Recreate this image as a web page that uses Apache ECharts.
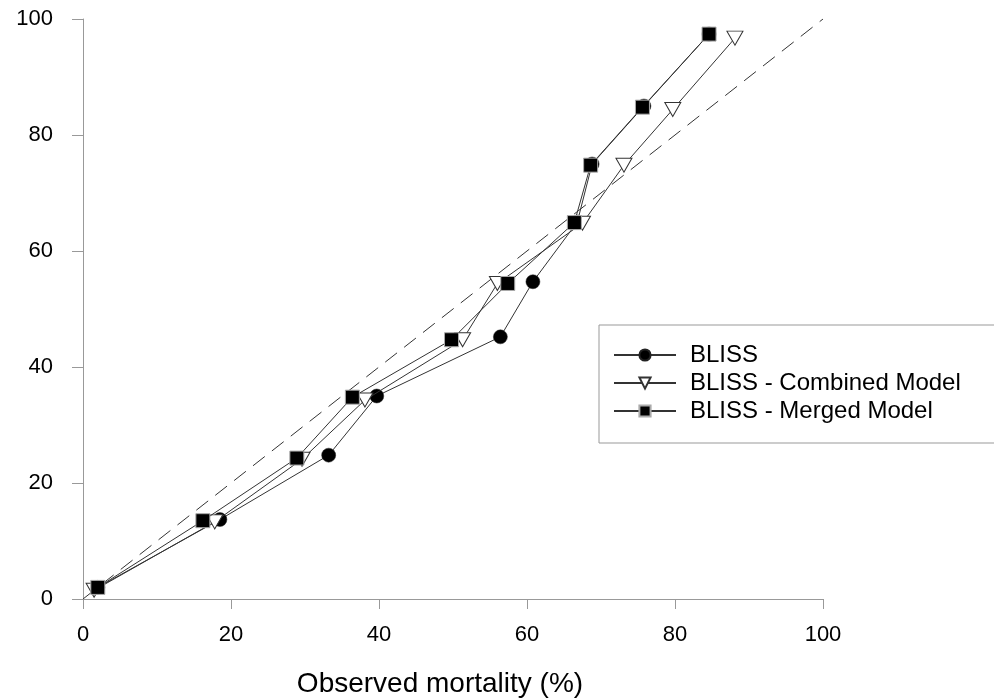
<!DOCTYPE html>
<html>
<head>
<meta charset="utf-8">
<script src="https://cdn.jsdelivr.net/npm/echarts@6/dist/echarts.min.js"></script>
<style>
  html, body { margin: 0; padding: 0; background: #fff; }
  #chart { width: 994px; height: 699px; }
</style>
</head>
<body>
<div id="chart"></div>
<script>
// Observed mortality (%) vs. predicted mortality for three BLISS variants
const blissX     = [2.0, 18.5, 33.2, 39.7, 56.4, 60.8, 66.8, 68.8, 75.8, 84.6];
const blissY     = [2.0, 13.7, 24.8, 35.0, 45.2, 54.7, 65.0, 75.0, 85.0, 97.4];
const combinedX  = [1.5, 17.8, 29.6, 38.1, 51.3, 56.0, 67.5, 73.1, 79.7, 88.1];
const combinedY  = [1.5, 13.3, 24.1, 34.3, 44.7, 54.4, 64.8, 74.8, 84.4, 96.7];
const mergedX    = [2.0, 16.2, 28.9, 36.4, 49.8, 57.4, 66.4, 68.6, 75.6, 84.6];
const mergedY    = [2.0, 13.5, 24.3, 34.8, 44.7, 54.4, 64.9, 74.8, 84.8, 97.4];
const identityX  = [0, 100];
const identityY  = [0, 100];
const seriesNames = ['BLISS', 'BLISS - Combined Model', 'BLISS - Merged Model'];
const xTitle = 'Observed mortality (%)';

const pairs = (xs, ys) => xs.map((x, i) => [x, ys[i]]);
const FONT = 'Liberation Sans, Arial, sans-serif';
const lineStyle = { color: '#333', width: 1 };

const chart = echarts.init(document.getElementById('chart'), null, { renderer: 'canvas' });
chart.setOption({
  animation: false,
  backgroundColor: '#fff',
  grid: { left: 83, right: 171, top: 19, bottom: 100, containLabel: false, outerBoundsMode: 'none' },
  xAxis: {
    type: 'value', min: 0, max: 100, interval: 20,
    name: xTitle, nameLocation: 'middle', nameGap: 71,
    nameTextStyle: { fontFamily: FONT, fontSize: 28, color: '#000', padding: [0, 26, 0, 0] },
    axisLine: { show: true, lineStyle: { color: '#999', width: 1 } },
    axisTick: { show: true, length: 10, lineStyle: { color: '#999' } },
    axisLabel: { fontFamily: FONT, fontSize: 22, color: '#000', margin: 25 },
    splitLine: { show: false }
  },
  yAxis: {
    type: 'value', min: 0, max: 100, interval: 20,
    axisLine: { show: true, lineStyle: { color: '#999', width: 1 } },
    axisTick: { show: true, length: 11, lineStyle: { color: '#999' } },
    axisLabel: { fontFamily: FONT, fontSize: 22, color: '#000', margin: 30 },
    splitLine: { show: false }
  },
  legend: {
    data: seriesNames,
    orient: 'vertical',
    left: 599, top: 325,
    padding: [18, 34, 20, 14],
    itemGap: 4,
    itemWidth: 62, itemHeight: 14,
    borderColor: '#999', borderWidth: 1,
    textStyle: { fontFamily: FONT, fontSize: 24, color: '#000', padding: [0, 0, 0, 9] }
  },
  series: [
    {
      type: 'line', name: 'identity', silent: true,
      data: pairs(identityX, identityY), symbol: 'none',
      lineStyle: { color: '#333', width: 1, type: [15, 9] }, z: 1
    },
    {
      type: 'line', name: seriesNames[0], data: pairs(blissX, blissY),
      symbol: 'circle', symbolSize: 14,
      itemStyle: { color: '#000', borderColor: '#222', borderWidth: 0.5 },
      lineStyle: lineStyle, z: 2
    },
    {
      type: 'line', name: seriesNames[1], data: pairs(combinedX, combinedY),
      symbol: 'triangle', symbolSize: [16, 14], symbolRotate: 180,
      itemStyle: { color: '#fff', borderColor: '#333', borderWidth: 1 },
      lineStyle: lineStyle, z: 3
    },
    {
      type: 'line', name: seriesNames[2], data: pairs(mergedX, mergedY),
      symbol: 'rect', symbolSize: 14,
      itemStyle: { color: '#000', borderColor: '#aaa', borderWidth: 1 },
      lineStyle: lineStyle, z: 4
    }
  ]
});
</script>
</body>
</html>
